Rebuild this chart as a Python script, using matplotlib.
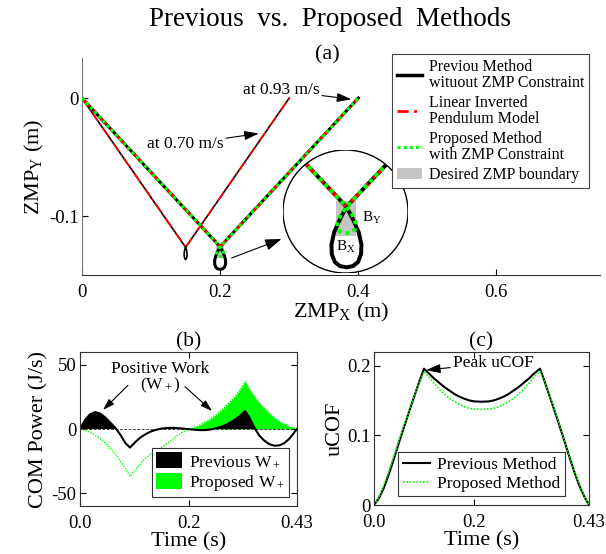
import matplotlib
matplotlib.use('Agg')
import matplotlib.pyplot as plt
from matplotlib.patches import Circle, Rectangle, Patch
from matplotlib.lines import Line2D
import numpy as np

plt.rcParams['font.family'] = ['Liberation Serif', 'DejaVu Serif']
plt.rcParams['mathtext.fontset'] = 'custom'
plt.rcParams['mathtext.rm'] = 'Liberation Serif'
plt.rcParams['mathtext.it'] = 'Liberation Serif:italic'
plt.rcParams['axes.unicode_minus'] = False

W, H = 606, 554
GREEN = '#00ff00'
RED = '#ff0000'
GRAY = '#c4c4c4'

# (a) ZMP trajectories, 0.93 m/s gait (with loop under the second step)
fast_prev_x = [0.0, 0.2, 0.2035, 0.2065, 0.208, 0.2078, 0.2062, 0.2035, 0.2, 0.1965,
               0.1938, 0.1922, 0.192, 0.1935, 0.1965, 0.2, 0.4]
fast_prev_y = [0.0, -0.126, -0.130, -0.134, -0.138, -0.141, -0.1435, -0.1448, -0.1452,
               -0.1448, -0.1435, -0.141, -0.138, -0.134, -0.130, -0.126, 0.0]
fast_lipm_x = [0.0, 0.2, 0.4]
fast_lipm_y = [0.0, -0.126, 0.0]
fast_prop_x = [0.0, 0.2, 0.203, 0.2048, 0.2045, 0.2025, 0.2, 0.1975, 0.1955, 0.1952,
               0.197, 0.2, 0.4]
fast_prop_y = [0.0, -0.126, -0.1285, -0.131, -0.1332, -0.1342, -0.1344, -0.1342,
               -0.1332, -0.131, -0.1285, -0.126, 0.0]
# 0.70 m/s gait
slow_prev_x = [0.0, 0.15, 0.1515, 0.1522, 0.1515, 0.15, 0.1485, 0.1478, 0.1485, 0.15, 0.3]
slow_prev_y = [0.0, -0.1265, -0.129, -0.1325, -0.1355, -0.137, -0.1355, -0.1325,
               -0.129, -0.1265, 0.0]
slow_lipm_x = [0.0, 0.15, 0.3]
slow_lipm_y = [0.0, -0.1265, 0.0]
# desired ZMP boundary (x0, y0, w, h)
zmp_box = [0.1942, -0.1352, 0.0111, 0.0111]

# (b) COM power
t_b = [0, 0.01, 0.02, 0.03, 0.04, 0.05, 0.06, 0.07, 0.08, 0.09, 0.099, 0.11, 0.12,
       0.13, 0.14, 0.15, 0.16, 0.17, 0.18, 0.19, 0.20, 0.21, 0.22, 0.23, 0.24, 0.25,
       0.26, 0.27, 0.28, 0.29, 0.30, 0.31, 0.32, 0.327, 0.335, 0.345, 0.355, 0.365,
       0.375, 0.385, 0.395, 0.405, 0.415, 0.425, 0.43]
power_prev = [0, 7, 11.5, 13.2, 12, 9, 5, 1, -4.5, -11, -14.5, -10, -6.5, -4, -2, -0.7,
              0.2, 0.7, 0.9, 0.8, 0.5, 0.1, -0.3, -0.7, -0.9, -0.8, -0.3, 0.6, 1.8, 3.4,
              5.5, 8, 11.3, 14, 9.5, 1.5, -5, -9, -11.8, -13, -12.8, -11, -7.5, -2.5, 0]
power_prop = [0, -1, -2.5, -5, -7.5, -11, -15, -19.5, -25, -31, -37, -31.5, -27, -22.5,
              -19.5, -17, -14.5, -12, -9, -5.8, -3.2, -1.2, 0.3, 1.8, 3.6, 5.8, 8.3, 11.2,
              14.5, 18.2, 22.3, 27, 32.3, 37, 31.5, 25.5, 20.5, 16, 12, 8.7, 6, 3.8, 2,
              0.6, 0]

# (c) uCOF
t_c = [0, 0.01, 0.02, 0.03, 0.04, 0.05, 0.06, 0.07, 0.08, 0.09, 0.10, 0.11, 0.12, 0.13,
       0.14, 0.15, 0.16, 0.17, 0.18, 0.19, 0.20, 0.215, 0.23, 0.24, 0.25, 0.26, 0.27,
       0.28, 0.29, 0.30, 0.31, 0.32, 0.332, 0.34, 0.35, 0.36, 0.37, 0.38, 0.39, 0.40,
       0.41, 0.42, 0.43]
ucof_prev = [0, 0.010, 0.025, 0.045, 0.067, 0.090, 0.112, 0.134, 0.155, 0.176, 0.196,
             0.189, 0.182, 0.176, 0.170, 0.165, 0.160, 0.156, 0.153, 0.1505, 0.149,
             0.1485, 0.149, 0.1505, 0.153, 0.156, 0.160, 0.165, 0.170, 0.176, 0.182,
             0.189, 0.196, 0.180, 0.159, 0.138, 0.116, 0.094, 0.071, 0.049, 0.029,
             0.013, 0]
ucof_prop = [0, 0.012, 0.029, 0.049, 0.071, 0.093, 0.115, 0.136, 0.156, 0.174, 0.192,
             0.184, 0.175, 0.167, 0.160, 0.154, 0.149, 0.145, 0.1415, 0.139, 0.1378,
             0.1373, 0.1378, 0.139, 0.1415, 0.145, 0.149, 0.154, 0.160, 0.167, 0.175,
             0.184, 0.192, 0.178, 0.160, 0.140, 0.118, 0.096, 0.073, 0.051, 0.031,
             0.014, 0]


def px_box(l, t, r, b):
    return [l / W, 1 - b / H, (r - l) / W, (b - t) / H]


def style_ticks(ax, box=True):
    ax.tick_params(direction='in', length=4, width=0.8, labelsize=13.5,
                   top=box, right=box)
    ax.tick_params(axis='x', pad=6.5)
    ax.tick_params(axis='y', pad=2.5)
    for s in ax.spines.values():
        s.set_color('#333333')
        s.set_linewidth(0.8)


def draw_zmp(ax, lw_scale=1.0):
    ax.add_patch(Rectangle(zmp_box[:2], zmp_box[2], zmp_box[3], color=GRAY, lw=0, zorder=1))
    ax.plot(slow_prev_x, slow_prev_y, color='k', lw=1.2 * lw_scale, zorder=2)
    ax.plot(slow_lipm_x, slow_lipm_y, color=RED, lw=1.2 * lw_scale,
            ls=(0, (6, 2, 1, 2)), zorder=3)
    ax.plot(fast_prev_x, fast_prev_y, color='k', lw=2.2 * lw_scale, zorder=2)
    ax.plot(fast_lipm_x, fast_lipm_y, color=RED, lw=2.0 * lw_scale,
            ls=(0, (4, 2, 1, 2)), zorder=3)
    ax.plot(fast_prop_x, fast_prop_y, color=GREEN, lw=2.2 * lw_scale,
            ls=(0, (1, 1)), zorder=4)


fig = plt.figure(figsize=(W / 100, H / 100), dpi=100)

# ---------------- (a) ----------------
ax_a = fig.add_axes(px_box(82, 58, 600, 275))
draw_zmp(ax_a)
ax_a.set_xlim(0, 0.75)
ax_a.set_ylim(-0.15, 0.034)
ax_a.set_xticks([0, 0.2, 0.4, 0.6])
ax_a.set_xticklabels(['0', '0.2', '0.4', '0.6'])
ax_a.set_yticks([-0.1, 0])
ax_a.set_yticklabels(['-0.1', '0'])
style_ticks(ax_a, box=False)
ax_a.spines['top'].set_visible(False)
ax_a.spines['right'].set_visible(False)
ax_a.spines['left'].set_color('#777777')
ax_a.set_xlabel('ZMP$_\\mathrm{X}$ (m)', fontsize=16, labelpad=0)
ax_a.set_ylabel('ZMP$_\\mathrm{Y}$ (m)', fontsize=16, labelpad=2)

arrow = dict(arrowstyle='-|>,head_length=0.7,head_width=0.22', color='k', lw=0.8,
             shrinkA=0, shrinkB=0)
ax_a.annotate('at 0.93 m/s', xy=(0.39, -0.001), xytext=(0.288, 0.0065),
              fontsize=12.5, ha='center', va='center', arrowprops=arrow)
ax_a.annotate('at 0.70 m/s', xy=(0.256, -0.03), xytext=(0.149, -0.039),
              fontsize=12.5, ha='center', va='center', arrowprops=arrow)
ax_a.annotate('', xy=(0.2888, -0.1195), xytext=(0.2166, -0.1356),
              arrowprops=dict(arrowstyle='-|>,head_length=1.0,head_width=0.35',
                              color='k', lw=0.8, shrinkA=0, shrinkB=0))

# zoomed circular inset
ax_in = fig.add_axes(px_box(283, 150, 408, 273))
ax_in.set_xlim(0.1662, 0.2328)
ax_in.set_ylim(-0.147, -0.108)
ax_in.axis('off')
circ_bg = Circle((0.5, 0.5), 0.5, transform=ax_in.transAxes, facecolor='white',
                 edgecolor='k', lw=1.0, zorder=0)
ax_in.add_patch(circ_bg)
draw_zmp(ax_in, lw_scale=1.3)
clip = Circle((0.5, 0.5), 0.5, transform=ax_in.transAxes)
for art in ax_in.lines + ax_in.patches[1:]:
    art.set_clip_path(clip)
ax_in.text(0.71, 0.45, 'B$_\\mathrm{Y}$', transform=ax_in.transAxes, fontsize=11,
           ha='center', va='center')
ax_in.text(0.5, 0.21, 'B$_\\mathrm{X}$', transform=ax_in.transAxes, fontsize=11,
           ha='center', va='center')

handles = [Line2D([], [], color='k', lw=2.5),
           Line2D([], [], color=RED, lw=2, ls=(0, (4, 2, 1, 2))),
           Line2D([], [], color=GREEN, lw=2.2, ls=(0, (1, 1))),
           Patch(facecolor=GRAY, edgecolor='none')]
labels = ['Previou Method\nwituout ZMP Constraint', 'Linear Inverted\nPendulum Model',
          'Proposed Method\nwith ZMP Constraint', 'Desired ZMP boundary']
leg = fig.legend(handles, labels, loc='upper right', bbox_to_anchor=(589 / W, 1 - 54 / H),
                 fontsize=11.5, frameon=True, fancybox=False, framealpha=1,
                 edgecolor='#444444', handlelength=1.6, handletextpad=0.4,
                 borderpad=0.3, labelspacing=0.25, borderaxespad=0)
leg.get_frame().set_linewidth(0.8)
for txt in leg.get_texts():
    txt.set_linespacing(1.0)
leg.set_zorder(10)

fig.text(330 / W, 1 - 20 / H, 'Previous  vs.  Proposed  Methods', fontsize=19.5,
         ha='center', va='center')
fig.text(327 / W, 1 - 55 / H, '(a)', fontsize=16, ha='center', va='center')

# ---------------- (b) ----------------
ax_b = fig.add_axes(px_box(80, 352, 297, 506))
tb = np.array(t_b)
pp = np.array(power_prop)
pv = np.array(power_prev)
ax_b.fill_between(tb, 0, pp, where=pp > 0, interpolate=True, color=GREEN, lw=0,
                  label='Proposed W$_+$')
ax_b.fill_between(tb, 0, pv, where=pv > 0, interpolate=True, color='k', lw=0,
                  label='Previous W$_+$')
ax_b.axhline(0, color='#444444', lw=0.7, ls=(0, (3, 1.5)))
ax_b.plot(t_b, power_prop, color=GREEN, lw=1.0, ls=(0, (1, 1)))
ax_b.plot(t_b, power_prev, color='k', lw=1.5)
ax_b.set_xlim(0, 0.43)
ax_b.set_ylim(-60, 60)
ax_b.set_xticks([0, 0.215, 0.43])
ax_b.set_xticklabels(['0.0', '0.2', '0.43'])
ax_b.set_yticks([-50, 0, 50])
ax_b.set_yticklabels(['-50', '0', '50'])
style_ticks(ax_b)
ax_b.set_xlabel('Time (s)', fontsize=16, labelpad=0)
ax_b.set_ylabel('COM Power (J/s)', fontsize=16, labelpad=2)
ax_b.set_title('(b)', fontsize=15.5, pad=4)
ax_b.text(0.1585, 39.6, 'Positive Work\n(W$_+$)', fontsize=12.5, ha='center',
          va='center', linespacing=0.95)
ax_b.annotate('', xy=(0.0456, 14.8), xytext=(0.095, 34), arrowprops=arrow)
ax_b.annotate('', xy=(0.2616, 14), xytext=(0.208, 33), arrowprops=arrow)
hb, lb = ax_b.get_legend_handles_labels()
leg_b = ax_b.legend(hb[::-1], lb[::-1], loc='lower right',
                    bbox_to_anchor=(0.963, 0.058), fontsize=12.5, fancybox=False,
                    framealpha=1, edgecolor='#333333', handlelength=1.5,
                    handleheight=1.0, handletextpad=0.4, borderpad=0.25,
                    labelspacing=0.15, borderaxespad=0)
leg_b.get_frame().set_linewidth(0.8)

# ---------------- (c) ----------------
ax_c = fig.add_axes(px_box(374, 352, 589, 505))
ax_c.plot(t_c, ucof_prev, color='k', lw=1.5, label='Previous Method')
ax_c.plot(t_c, ucof_prop, color=GREEN, lw=1.2, ls=(0, (1, 1)), label='Proposed Method')
ax_c.set_xlim(0, 0.43)
ax_c.set_ylim(0, 0.22)
ax_c.set_xticks([0, 0.2, 0.43])
ax_c.set_xticklabels(['0.0', '0.2', '0.43'])
ax_c.set_yticks([0, 0.1, 0.2])
ax_c.set_yticklabels(['0', '0.1', '0.2'])
style_ticks(ax_c)
ax_c.set_xlabel('Time (s)', fontsize=16, labelpad=0)
ax_c.set_ylabel('uCOF', fontsize=16, labelpad=2)
ax_c.set_title('(c)', fontsize=15.5, pad=4)
ax_c.annotate('Peak uCOF', xy=(0.104, 0.194), xytext=(0.158, 0.204), fontsize=12.5,
              ha='left', va='center', arrowprops=arrow)
leg_c = ax_c.legend(loc='lower right', bbox_to_anchor=(0.888, 0.059), fontsize=12.5,
                    fancybox=False, framealpha=1, edgecolor='#333333',
                    handlelength=1.6, handletextpad=0.4, borderpad=0.25,
                    labelspacing=0.15, borderaxespad=0)
leg_c.get_frame().set_linewidth(0.8)

fig.savefig('out.png', dpi=100)
